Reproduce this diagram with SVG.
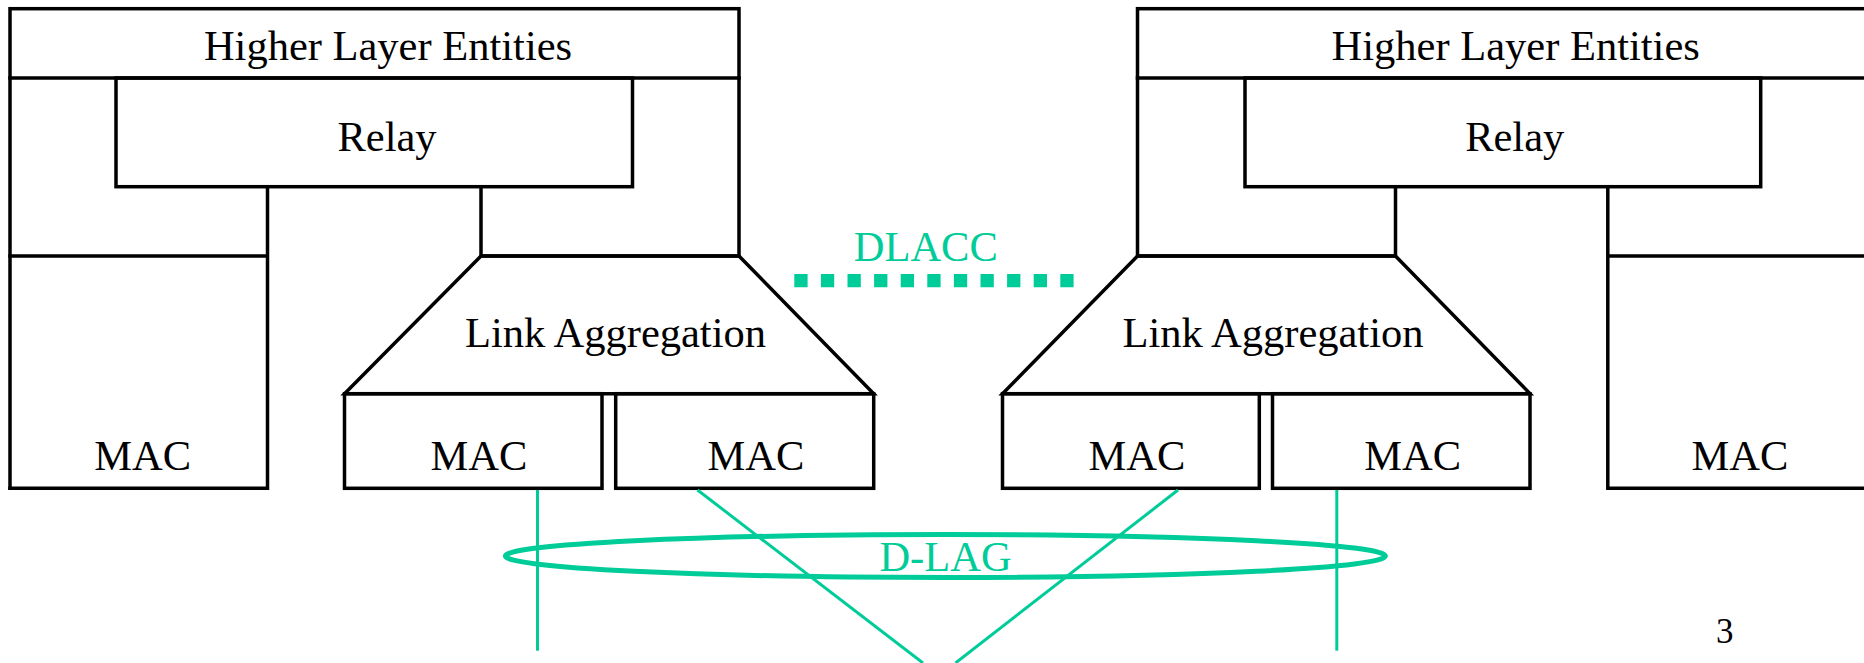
<svg xmlns="http://www.w3.org/2000/svg" width="1864" height="663" viewBox="0 0 1864 663">
  <style>
    .box { fill: none; stroke: #000; stroke-width: 3.5; stroke-linejoin: miter; stroke-linecap: square; }
    .lbl { font-family: "Liberation Serif", "Times New Roman", serif; font-size: 42.5px; fill: #000; text-anchor: middle; }
    .glbl { font-family: "Liberation Serif", "Times New Roman", serif; font-size: 42.5px; fill: #00CC99; text-anchor: middle; }
    .link { fill: none; stroke: #00CC99; stroke-width: 3; }
  </style>
  <rect width="1864" height="663" fill="#fff"/>

  <!-- Left station -->
  <g id="station-left">
    <g id="hle-left">
      <rect class="box" x="10" y="8.7" width="729" height="69.3"/>
      <text class="lbl" x="388" y="60">Higher Layer Entities</text>
    </g>
    <g id="relay-left">
      <rect class="box" x="116" y="78" width="516.5" height="108.7"/>
      <text class="lbl" x="387" y="151">Relay</text>
    </g>
    <path class="box" d="M10 78 V488.3 M739 78 V256 M481 186.7 V256 H739"/>
    <g id="mac-left-0">
      <path class="box" d="M10 256 H267.5 M267.5 186.7 V488.3 H10"/>
      <text class="lbl" x="142.7" y="470">MAC</text>
    </g>
    <g id="linkagg-left">
      <path class="box" d="M481 256 H739 L873.7 393.7 H344.5 Z"/>
      <text class="lbl" x="615.5" y="347">Link Aggregation</text>
    </g>
    <g id="mac-left-1">
      <rect class="box" x="344.5" y="393.7" width="257.5" height="94.6"/>
      <text class="lbl" x="479" y="470">MAC</text>
    </g>
    <g id="mac-left-2">
      <rect class="box" x="615.7" y="393.7" width="258" height="94.6"/>
      <text class="lbl" x="756" y="470">MAC</text>
    </g>
  </g>

  <!-- Right station -->
  <g id="station-right">
    <g id="hle-right">
      <rect class="box" x="1137.5" y="8.7" width="740" height="69.3"/>
      <text class="lbl" x="1515.7" y="60">Higher Layer Entities</text>
    </g>
    <g id="relay-right">
      <rect class="box" x="1245" y="78" width="515.7" height="108.7"/>
      <text class="lbl" x="1514.7" y="151">Relay</text>
    </g>
    <path class="box" d="M1137.5 78 V256 H1395.5 V186.7"/>
    <g id="mac-right-0">
      <path class="box" d="M1607.8 186.7 V488.3 H1880 M1607.8 256 H1880"/>
      <text class="lbl" x="1740" y="470">MAC</text>
    </g>
    <g id="linkagg-right">
      <path class="box" d="M1137.5 256 H1395.5 L1530 393.7 H1002.5 Z"/>
      <text class="lbl" x="1273" y="347">Link Aggregation</text>
    </g>
    <g id="mac-right-1">
      <rect class="box" x="1002.5" y="393.7" width="256.8" height="94.6"/>
      <text class="lbl" x="1137" y="470">MAC</text>
    </g>
    <g id="mac-right-2">
      <rect class="box" x="1272.5" y="393.7" width="257.5" height="94.6"/>
      <text class="lbl" x="1412.7" y="470">MAC</text>
    </g>
  </g>

  <!-- Links between the stations -->
  <g id="connectors">
    <line id="dlacc-line" x1="794.3" y1="280.7" x2="1074" y2="280.7" stroke="#00CC99" stroke-width="13.3" stroke-dasharray="13.3 13.3"/>
    <line class="link" x1="537.5" y1="490" x2="537.5" y2="650.7"/>
    <line class="link" x1="1336.8" y1="490" x2="1336.8" y2="650.7"/>
    <line class="link" x1="697.5" y1="490" x2="923" y2="663"/>
    <line class="link" x1="1178" y1="490" x2="955.5" y2="663"/>
    <ellipse id="dlag-ring" cx="945.4" cy="556" rx="440" ry="21.5" fill="none" stroke="#00CC99" stroke-width="5"/>
  </g>

  <g id="labels">
    <text class="glbl" x="925.8" y="261">DLACC</text>
    <text class="glbl" x="945.5" y="571">D-LAG</text>
    <text class="lbl" x="1724.7" y="642.5" style="font-size:35px">3</text>
  </g>
</svg>
